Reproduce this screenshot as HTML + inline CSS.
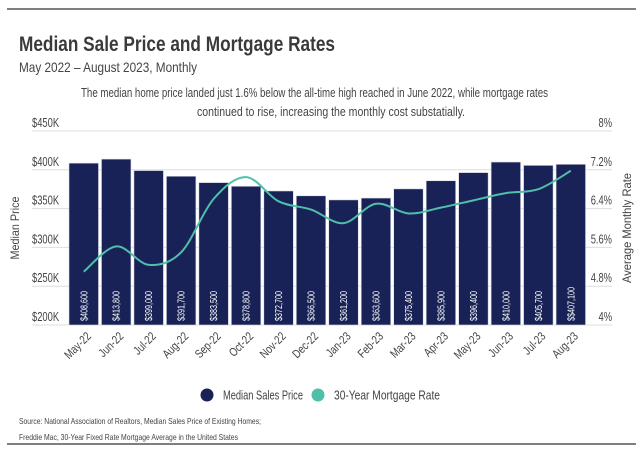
<!DOCTYPE html>
<html><head><meta charset="utf-8"><style>
html,body{margin:0;padding:0;background:#fff;}
svg{display:block;font-family:"Liberation Sans",sans-serif;}
</style></head><body>
<svg id="chart" width="643" height="455" viewBox="0 0 643 455">
<line x1="7" y1="9" x2="636" y2="9" stroke="#333" stroke-width="1.3"/>
<text x="19" y="51" font-size="21" font-weight="bold" fill="#3a3a3a" textLength="316" lengthAdjust="spacingAndGlyphs">Median Sale Price and Mortgage Rates</text>
<text x="19" y="72" font-size="14" fill="#444" textLength="178" lengthAdjust="spacingAndGlyphs">May 2022 – August 2023, Monthly</text>
<text x="81" y="97" font-size="12.5" fill="#444" textLength="467" lengthAdjust="spacingAndGlyphs">The median home price landed just 1.6% below the all-time high reached in June 2022, while mortgage rates</text>
<text x="197" y="116" font-size="12.5" fill="#444" textLength="268" lengthAdjust="spacingAndGlyphs">continued to rise, increasing the monthly cost substatially.</text>
<g id="grid"></g><g id="bars"></g><g id="line"></g><g id="axes"></g>
<text transform="translate(19,228) rotate(-90)" font-size="12" fill="#444" text-anchor="middle" textLength="63" lengthAdjust="spacingAndGlyphs">Median Price</text>
<text transform="translate(631,228) rotate(-90)" font-size="12" fill="#444" text-anchor="middle" textLength="110" lengthAdjust="spacingAndGlyphs">Average Monthly Rate</text>
<g>
<circle cx="207" cy="395" r="6.5" fill="#182256"/>
<text x="223" y="399.5" font-size="12.5" fill="#444" textLength="80" lengthAdjust="spacingAndGlyphs">Median Sales Price</text>
<circle cx="318" cy="395" r="6.5" fill="#4fbfaa"/>
<text x="334" y="399.5" font-size="12.5" fill="#444" textLength="106" lengthAdjust="spacingAndGlyphs">30-Year Mortgage Rate</text>
</g>
<text x="19" y="424" font-size="8.5" fill="#444" textLength="242" lengthAdjust="spacingAndGlyphs">Source: National Association of Realtors, Median Sales Price of Existing Homes;</text>
<text x="19" y="440" font-size="8.5" fill="#444" textLength="219" lengthAdjust="spacingAndGlyphs">Freddie Mac, 30-Year Fixed Rate Mortgage Average in the United States</text>
<line x1="7" y1="444" x2="636" y2="444" stroke="#333" stroke-width="1.3"/>
</svg>
<script>
const categories=["May-22","Jun-22","Jul-22","Aug-22","Sep-22","Oct-22","Nov-22","Dec-22","Jan-23","Feb-23","Mar-23","Apr-23","May-23","Jun-23","Jul-23","Aug-23"];
const prices=[408600,413800,399000,391700,383500,378800,372700,366500,361200,363600,375400,385900,396400,410000,405700,407100];
const priceLabels=["$408,600","$413,800","$399,000","$391,700","$383,500","$378,800","$372,700","$366,500","$361,200","$363,600","$375,400","$385,900","$396,400","$410,000","$405,700","$$407,100"];
const rates=[5.1,5.62,5.24,5.5,6.6,7.05,6.55,6.38,6.1,6.5,6.3,6.42,6.57,6.72,6.8,7.18];
const priceTicks=[200000,250000,300000,350000,400000,450000];
const priceTickLabels=["$200K","$250K","$300K","$350K","$400K","$450K"];
const rateTicks=[4,4.8,5.6,6.4,7.2,8];
const rateTickLabels=["4%","4.8%","5.6%","6.4%","7.2%","8%"];
const NS="http://www.w3.org/2000/svg";
const plotTop=131,plotBot=325,x0=69,pitch=32.47,bw=29.5;
const yP=v=>plotBot-(v-200000)/250000*(plotBot-plotTop);
const yR=v=>plotBot-(v-4)/4*(plotBot-plotTop);
const xC=i=>x0+i*pitch+bw/2;
function mk(tag,attrs,parent){const e=document.createElementNS(NS,tag);for(const k in attrs)e.setAttribute(k,attrs[k]);parent.appendChild(e);return e;}
function narrow(t,f){const w=t.getComputedTextLength();t.setAttribute('textLength',(w*f).toFixed(1));t.setAttribute('lengthAdjust','spacingAndGlyphs');}
const grid=document.getElementById('grid'),bars=document.getElementById('bars'),line=document.getElementById('line'),axes=document.getElementById('axes');
priceTicks.forEach((t,i)=>{
 const y=yP(t);
 const l=mk('line',{x1:32,x2:612,y1:y,y2:y,stroke:'#ddd','stroke-width':1},grid);
 
 
 const tx=mk('text',{x:32,y:y-4,'font-size':13,fill:'#444'},axes);
 tx.textContent=priceTickLabels[i];
 
 
 narrow(tx,0.72);
});
rateTicks.forEach((t,i)=>{
 const y=yR(t);
 const tx=mk('text',{x:612,y:y-4,'font-size':13,fill:'#444','text-anchor':'end'},axes);
 tx.textContent=rateTickLabels[i];
 
 
 narrow(tx,0.72);
});
prices.forEach((p,i)=>{
 const x=x0+i*pitch,y=yP(p);
 const r=mk('rect',{x:x,y:y,width:bw,height:plotBot-y,fill:'#182256',stroke:'#d8dbe6','stroke-width':0.6},bars);
 
 
 const t=mk('text',{transform:`translate(${xC(i)+3.5},${plotBot-4}) rotate(-90)`,'font-size':10,fill:'#fff'},bars);
 t.textContent=priceLabels[i];
 
 
 narrow(t,0.72);
 const c=mk('text',{transform:`translate(${xC(i)+8},${plotBot+12}) rotate(-45)`,'font-size':12,fill:'#444','text-anchor':'end'},axes);
 c.textContent=categories[i];
 
 
 narrow(c,0.8);
});
const pts=rates.map((r,i)=>[xC(i),yR(r)]);
let d=`M${pts[0][0]},${pts[0][1]}`;
for(let i=0;i<pts.length-1;i++){
 const p0=pts[Math.max(0,i-1)],p1=pts[i],p2=pts[i+1],p3=pts[Math.min(pts.length-1,i+2)];
 const c1x=p1[0]+(p2[0]-p0[0])/6,c1y=p1[1]+(p2[1]-p0[1])/6;
 const c2x=p2[0]-(p3[0]-p1[0])/6,c2y=p2[1]-(p3[1]-p1[1])/6;
 d+=` C${c1x},${c1y} ${c2x},${c2y} ${p2[0]},${p2[1]}`;
}
const path=mk('path',{d:d,fill:'none',stroke:'#4fbfaa','stroke-width':2},line);


</script>
</body></html>
